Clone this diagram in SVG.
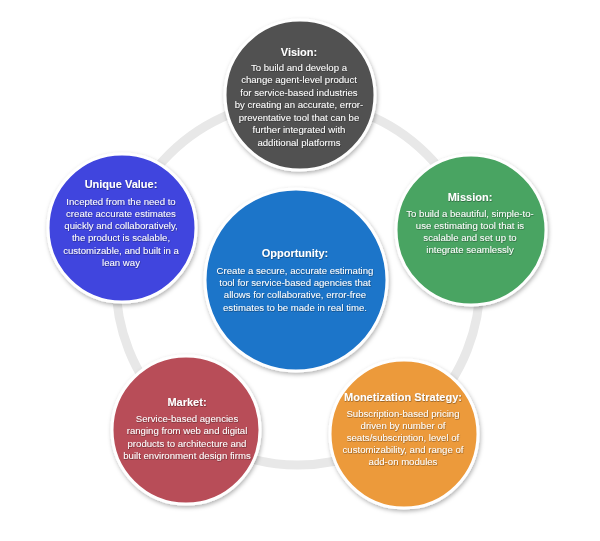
<svg xmlns="http://www.w3.org/2000/svg" width="600" height="541" viewBox="0 0 600 541">
<defs>
<filter id="sh" x="-20%" y="-20%" width="140%" height="140%">
<feDropShadow dx="1" dy="2" stdDeviation="2" flood-color="#000" flood-opacity="0.3"/>
</filter>
<filter id="tsh" x="-5%" y="-20%" width="110%" height="140%">
<feDropShadow dx="0.4" dy="0.6" stdDeviation="0.5" flood-color="#000" flood-opacity="0.55"/>
</filter>
<style>
.c{stroke:#fff;stroke-width:3;filter:url(#sh)}
text{font-family:"Liberation Sans",Arial,Helvetica,sans-serif;fill:#fff;text-anchor:middle}
.t{font-size:11px;font-weight:bold}
.b{font-size:9.6px}
.txt{filter:url(#tsh)}
</style>
</defs>
<rect width="600" height="541" fill="#fff"/>
<g id="connectors">
<circle cx="298" cy="283" r="182" fill="none" stroke="#e8e8e8" stroke-width="9"/>
</g>
<g id="vision">
<circle class="c" cx="300" cy="95" r="75" fill="#515151"/>
<g class="txt">
<text class="t" x="299" y="56">Vision:</text>
<text class="b" x="299" y="70.5">To build and develop a</text>
<text class="b" x="299" y="83">change agent-level product</text>
<text class="b" x="299" y="95.5">for service-based industries</text>
<text class="b" x="299" y="108">by creating an accurate, error-</text>
<text class="b" x="299" y="120.5">preventative tool that can be</text>
<text class="b" x="299" y="133">further integrated with</text>
<text class="b" x="299" y="145.5">additional platforms</text>
</g>
</g>
<g id="mission">
<circle class="c" cx="471" cy="230" r="75" fill="#4aa462"/>
<g class="txt">
<text class="t" x="470" y="201">Mission:</text>
<text class="b" x="470" y="216.5">To build a beautiful, simple-to-</text>
<text class="b" x="470" y="228.8">use estimating tool that is</text>
<text class="b" x="470" y="241.1">scalable and set up to</text>
<text class="b" x="470" y="253.4">integrate seamlessly</text>
</g>
</g>
<g id="unique-value">
<circle class="c" cx="122" cy="228" r="74" fill="#3f44de"/>
<g class="txt">
<text class="t" x="121" y="188">Unique Value:</text>
<text class="b" x="121" y="205">Incepted from the need to</text>
<text class="b" x="121" y="217">create accurate estimates</text>
<text class="b" x="121" y="229">quickly and collaboratively,</text>
<text class="b" x="121" y="241">the product is scalable,</text>
<text class="b" x="121" y="253.5">customizable, and built in a</text>
<text class="b" x="121" y="265.5">lean way</text>
</g>
</g>
<g id="opportunity">
<circle class="c" cx="296" cy="280" r="91" fill="#1d74c9"/>
<g class="txt">
<text class="t" x="295" y="257">Opportunity:</text>
<text class="b" x="295" y="273.5">Create a secure, accurate estimating</text>
<text class="b" x="295" y="285.8">tool for service-based agencies that</text>
<text class="b" x="295" y="298.1">allows for collaborative, error-free</text>
<text class="b" x="295" y="310.5">estimates to be made in real time.</text>
</g>
</g>
<g id="market">
<circle class="c" cx="186" cy="430" r="74" fill="#b84d58"/>
<g class="txt">
<text class="t" x="187" y="406">Market:</text>
<text class="b" x="187" y="421.5">Service-based agencies</text>
<text class="b" x="187" y="434">ranging from web and digital</text>
<text class="b" x="187" y="446.5">products to architecture and</text>
<text class="b" x="187" y="458.5">built environment design firms</text>
</g>
</g>
<g id="monetization">
<circle class="c" cx="404" cy="434" r="74" fill="#ec9a3b"/>
<g class="txt">
<text class="t" x="403" y="401">Monetization Strategy:</text>
<text class="b" x="403" y="416.5">Subscription-based pricing</text>
<text class="b" x="403" y="428.5">driven by number of</text>
<text class="b" x="403" y="440.5">seats/subscription, level of</text>
<text class="b" x="403" y="452.5">customizability, and range of</text>
<text class="b" x="403" y="464.5">add-on modules</text>
</g>
</g>
</svg>
